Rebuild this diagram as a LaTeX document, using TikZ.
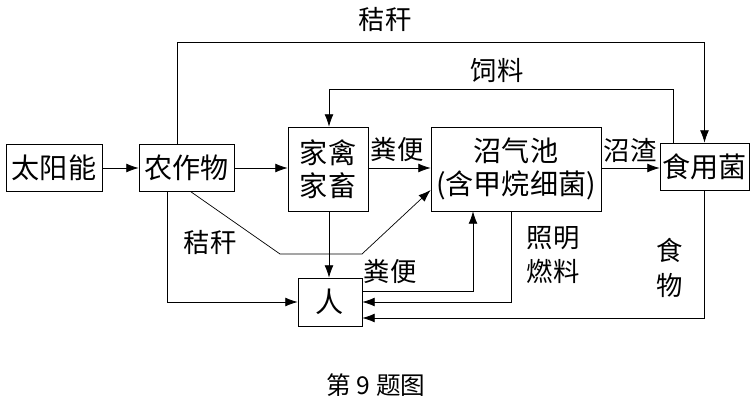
\documentclass[tikz,border=0pt]{standalone}
\usepackage{fontspec}
\setmainfont{Noto Sans CJK SC}
\usetikzlibrary{arrows.meta,positioning}
\tikzset{
    -{Latex[length=7pt,width=5pt]},line width=0.6pt,
    box/.style ={rectangle, draw, inner sep=0pt, align=center,
                 font=\fontsize{16}{19}\selectfont},
    lbl/.style = {inner sep=1pt, align=center, font=\fontsize{15}{18}\selectfont}
}
\begin{document}
\begin{tikzpicture}
  \useasboundingbox (0,0) rectangle (15.04,8.16);
  \node (S) at (1.08,4.8) [box, minimum width=1.92cm, minimum height=0.94cm] {太阳能};
  \node (C) at (3.73,4.8) [box, minimum width=1.9cm, minimum height=0.94cm] {农作物};
  \node (L) at (6.56,4.78) [box, minimum width=1.6cm, minimum height=1.68cm] {家禽\\家畜};
  \node (B) at (10.32,4.78) [box, minimum width=3.4cm, minimum height=1.68cm] {沼气池\\(含甲烷细菌)};
  \node (F) at (14.09,4.83) [box, minimum width=1.78cm, minimum height=0.94cm] {食用菌};
  \node (P) at (6.6,2.12) [box, minimum width=1.28cm, minimum height=0.96cm] {人};

  \coordinate (top) at (3.54,7.32);
  \coordinate (feed) at (6.58,6.38);
  \coordinate (k1) at (5.6,3.08);
  \coordinate (k2) at (7.24,3.08);

    \path (S) edge (C);
    \path (C) edge (C -| L.west);
    \path (L.east |- C) edge (B.west |- C);
    \path (B.east |- C) edge (F.west |- C);
    \path (L.south -| feed) edge (P.north -| feed);
    \draw [-] (C.north -| top) -- (top);
    \draw (top) -| (F.north);
    \draw ([xshift=-0.63cm]F.north) |- (feed) -- (L.north -| feed);
    \draw ([xshift=-0.39cm]C.south) |- (P.west);
    \draw ([xshift=0.09cm]C.south) -- (k1) -- (k2) -- ([yshift=-0.42cm]B.west);
    \draw ([yshift=0.22cm]P.east) -| ([xshift=-0.86cm]B.south);
    \draw ([xshift=-0.1cm]B.south) |- (P.east);
    \draw (F.south) |- ([yshift=-0.32cm]P.east);

    \node (t1) at (7.7,7.78) [lbl] {秸秆};
    \node (t2) at (9.94,6.76) [lbl] {饲料};
    \node (t3) at (7.94,5.16) [lbl] {粪便};
    \node (t4) at (12.6,5.16) [lbl] {沼渣};
    \node (t5) at (4.2,3.32) [lbl] {秸秆};
    \node (t6) at (7.8,2.72) [lbl] {粪便};
    \node (t7) at (11.06,3.06) [lbl, font=\fontsize{15}{19}\selectfont] {照明\\燃料};
    \node (t8) at (13.4,2.8) [lbl, font=\fontsize{15}{20}\selectfont] {食\\物};
    \node (cap) at (7.52,0.46) [lbl, font=\fontsize{14}{16}\selectfont] {第 9 题图};
\end{tikzpicture}
\end{document}
